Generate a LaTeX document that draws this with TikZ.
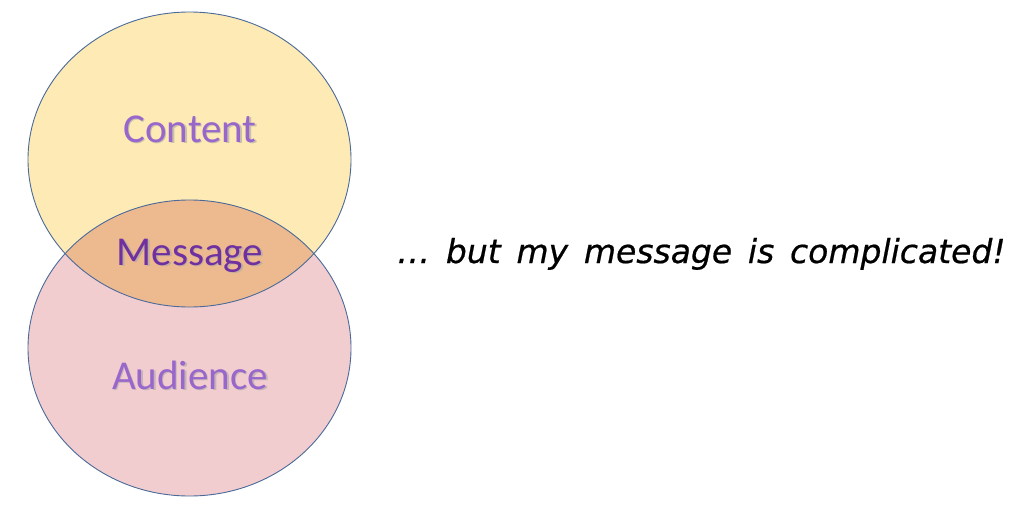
\documentclass[tikz,border=0pt]{standalone}
\usepackage{fontspec}
\setmainfont{Carlito}
\newfontfamily\handfont[FakeBold=0.6,WordSpace=1.5]{DejaVu Sans}
\definecolor{topfill}{HTML}{FDEAB4}
\definecolor{botfill}{HTML}{F2CDD0}
\definecolor{midfill}{HTML}{EDBA8F}
\definecolor{edgec}{HTML}{4A6A9A}
\definecolor{lightpurple}{HTML}{9966CC}
\definecolor{darkpurple}{HTML}{7030A0}
\tikzset{
  venn/.style={draw=edgec, line width=0.9pt},
  label/.style={font=\fontsize{41}{41}\selectfont, anchor=base, inner sep=0pt},
  shadowtext/.style={label, text=black!35, opacity=0.6},
}
\begin{document}
\begin{tikzpicture}[x=1pt,y=-1pt]
\useasboundingbox (0,0) rectangle (1024,522);
\fill[white] (0,0) rectangle (1024,522);
% circles
\fill[topfill] (189.5,159.5) ellipse [x radius=161.5pt, y radius=147.5pt];
\fill[botfill] (189.5,348) ellipse [x radius=161.5pt, y radius=148pt];
\begin{scope}
  \clip (189.5,159.5) ellipse [x radius=161.5pt, y radius=147.5pt];
  \fill[midfill] (189.5,348) ellipse [x radius=161.5pt, y radius=148pt];
\end{scope}
\draw[venn] (189.5,159.5) ellipse [x radius=161.5pt, y radius=147.5pt];
\draw[venn] (189.5,348) ellipse [x radius=161.5pt, y radius=148pt];
% labels
\node[shadowtext] (contentsh) at (191.5,143.5) {Content};
\node[label, text=lightpurple] (content) at (190,142) {Content};
\node[shadowtext] (messagesh) at (191.5,266.5) {Message};
\node[label, text=darkpurple] (message) at (190,265) {Message};
\node[shadowtext] (audiencesh) at (191.5,390.5) {Audience};
\node[label, text=lightpurple] (audience) at (190,389) {Audience};
% remark
\node[anchor=base west, inner sep=0pt, font=\handfont\itshape\fontsize{33}{33}\selectfont] (remark) at (397,263) {…\ but my message is complicated!};
\end{tikzpicture}
\end{document}
